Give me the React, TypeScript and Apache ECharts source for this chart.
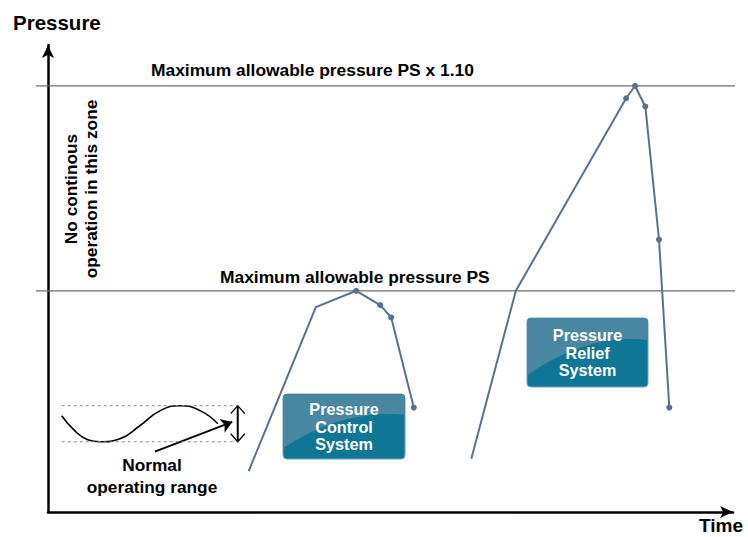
import React, { useEffect, useRef } from "react";
import * as echarts from "echarts";

// ---- data (time in % of axis length, pressure in % of PS) ----
const timeRange = [0, 100];
const pressureRange = [89.2, 112];
const refLevels = [100, 110];
const refLabels = ["Maximum allowable pressure PS", "Maximum allowable pressure PS x 1.10"];

const controlTime = [29.3, 39.1, 45.0, 48.5, 50.1, 53.4];
const controlPressure = [91.2, 99.2, 100.0, 99.3, 98.7, 94.3];
const controlMarked = [false, false, true, true, true, true];

const reliefTime = [61.8, 68.3, 84.4, 85.7, 87.2, 89.2, 90.7];
const reliefPressure = [91.8, 100.0, 109.4, 110.0, 109.0, 102.5, 94.3];
const reliefMarked = [false, false, true, true, true, true, true];

const normalTime = [2.0, 3.9, 5.8, 7.6, 10.5, 13.4, 16.4, 19.3, 22.2, 24.8];
const normalPressure = [93.9, 93.17, 92.73, 92.63, 92.78, 93.41, 94.15, 94.39, 94.15, 93.51];

const rangeTime = [2.0, 27.7];
const rangeBounds = [92.63, 94.39];

const pointerFrom = [15.6, 92.15];
const pointerTo = [26.9, 93.6];

const boxLabels = ["Pressure\nControl\nSystem", "Pressure\nRelief\nSystem"];
const zoneLabel = "No continous\noperation in this zone";
const rangeLabel = "Normal\noperating range";
const axisNames = ["Time", "Pressure"];

const FONT = "'Liberation Sans', Arial, Helvetica, sans-serif";
const LINE = "#587190";

function glossPath(w: number, h: number, r: number) {
  return `M0,${r} Q0,0 ${r},0 L${w - r},0 Q${w},0 ${w},${r} L${w},${0.32 * h} Q${0.5 * w},${0.22 * h} 0,${0.83 * h} Z`;
}

export default function App() {
  const ref = useRef<HTMLDivElement>(null);
  useEffect(() => {
    const chart = echarts.init(ref.current!, null, { renderer: "svg" });
    const mk = (ts: number[], ps: number[], marked?: boolean[]) =>
      ts.map((t, i) => ({
        value: [t, ps[i]],
        symbol: marked && marked[i] ? "circle" : "none",
      }));
    chart.setOption({
      animation: false,
      grid: { left: 48, right: 15, top: 45, bottom: 25 },
      xAxis: {
        type: "value",
        min: timeRange[0],
        max: timeRange[1],
        axisLine: {
          onZero: false,
          symbol: ["none", "arrow"],
          symbolSize: [9, 13],
          lineStyle: { color: "#000", width: 2.5 },
        },
        axisTick: { show: false },
        axisLabel: { show: false },
        splitLine: { show: false },
      },
      yAxis: {
        type: "value",
        min: pressureRange[0],
        max: pressureRange[1],
        axisLine: {
          show: true,
          onZero: false,
          symbol: ["none", "arrow"],
          symbolSize: [9, 13],
          lineStyle: { color: "#000", width: 2.5 },
        },
        axisTick: { show: false },
        axisLabel: { show: false },
        splitLine: { show: false },
      },
      series: [
        {
          type: "line",
          data: mk(controlTime, controlPressure, controlMarked),
          symbolSize: 6,
          lineStyle: { color: LINE, width: 2 },
          itemStyle: { color: LINE },
        },
        {
          type: "line",
          data: mk(reliefTime, reliefPressure, reliefMarked),
          symbolSize: 6,
          lineStyle: { color: LINE, width: 2 },
          itemStyle: { color: LINE },
        },
        {
          type: "line",
          data: normalTime.map((t, i) => [t, normalPressure[i]]),
          smooth: 0.5,
          showSymbol: false,
          lineStyle: { color: "#000", width: 1.6 },
        },
        ...rangeBounds.map((b) => ({
          type: "line",
          data: rangeTime.map((t) => [t, b]),
          showSymbol: false,
          lineStyle: { color: "#8a8a8a", width: 1, type: [3, 3] },
        })),
        {
          type: "lines",
          coordinateSystem: "cartesian2d",
          symbol: ["none", "arrow"],
          symbolSize: 11,
          lineStyle: { color: "#000", width: 2, opacity: 1 },
          data: [{ coords: [pointerFrom, pointerTo] }],
        },
      ],
    });

    const px = (t: number, p: number) =>
      chart.convertToPixel({ gridIndex: 0 }, [t, p]) as number[];

    const graphics: any[] = [];
    // reference lines
    refLevels.forEach((lv, i) => {
      const y = px(0, lv)[1];
      graphics.push({
        type: "line",
        shape: { x1: 36, y1: y, x2: 735, y2: y },
        style: { stroke: "#6e6e6e", lineWidth: 1.2 },
        z: 1,
      });
      graphics.push({
        type: "text",
        x: i === 0 ? 220 : 151,
        y: y - (i === 0 ? 14 : 16),
        style: {
          text: refLabels[i],
          fontSize: 17.4,
          fontWeight: "bold",
          fontFamily: FONT,
          fill: "#000",
          align: "left",
          verticalAlign: "middle",
        },
      });
    });
    // double arrow for normal range
    const top = px(rangeTime[1], rangeBounds[1]);
    const bot = px(rangeTime[1], rangeBounds[0]);
    graphics.push({
      type: "line",
      shape: { x1: top[0], y1: top[1], x2: bot[0], y2: bot[1] },
      style: { stroke: "#000", lineWidth: 2 },
    });
    graphics.push({
      type: "polyline",
      shape: { points: [[top[0] - 7, top[1] + 8], [top[0], top[1]], [top[0] + 7, top[1] + 8]] },
      style: { stroke: "#000", lineWidth: 1.3, fill: "none" },
    });
    graphics.push({
      type: "polyline",
      shape: { points: [[bot[0] - 7, bot[1] - 8], [bot[0], bot[1]], [bot[0] + 7, bot[1] - 8]] },
      style: { stroke: "#000", lineWidth: 1.3, fill: "none" },
    });
    // boxes
    const boxes = [
      { x: 283, y: 394, w: 122, h: 65 },
      { x: 527, y: 318, w: 121, h: 69 },
    ];
    boxes.forEach((b, i) => {
      const name = "gloss" + i;
      echarts.graphic.registerShape(name, echarts.graphic.extendPath(glossPath(b.w, b.h, 4), {}));
      graphics.push({
        type: "rect",
        shape: { x: b.x, y: b.y, width: b.w, height: b.h, r: 4 },
        style: { fill: "#0f7696", stroke: "#6ea3b8", lineWidth: 1 },
      });
      graphics.push({
        type: name,
        x: b.x,
        y: b.y,
        style: { fill: "#4886a2" },
      });
      graphics.push({
        type: "text",
        x: b.x + b.w / 2,
        y: b.y + b.h / 2,
        style: {
          text: boxLabels[i],
          fontSize: 16.2,
          fontWeight: "bold",
          fontFamily: FONT,
          fill: "#fff",
          align: "center",
          verticalAlign: "middle",
          lineHeight: 17.5,
        },
      });
    });
    // other labels
    graphics.push({
      type: "text",
      x: 81,
      y: 189,
      rotation: Math.PI / 2,
      style: {
        text: zoneLabel,
        fontSize: 17.3,
        fontWeight: "bold",
        fontFamily: FONT,
        fill: "#000",
        align: "center",
        verticalAlign: "middle",
        lineHeight: 20,
      },
    });
    graphics.push({
      type: "text",
      x: 152,
      y: 476,
      style: {
        text: rangeLabel,
        fontSize: 17.3,
        fontWeight: "bold",
        fontFamily: FONT,
        fill: "#000",
        align: "center",
        verticalAlign: "middle",
        lineHeight: 22,
      },
    });
    graphics.push({
      type: "text",
      x: 13,
      y: 22,
      style: {
        text: axisNames[1],
        fontSize: 20.5,
        fontWeight: "bold",
        fontFamily: FONT,
        fill: "#000",
        align: "left",
        verticalAlign: "middle",
      },
    });
    graphics.push({
      type: "text",
      x: 699,
      y: 525,
      style: {
        text: axisNames[0],
        fontSize: 19,
        fontWeight: "bold",
        fontFamily: FONT,
        fill: "#000",
        align: "left",
        verticalAlign: "middle",
      },
    });
    chart.setOption({ graphic: graphics });
    return () => chart.dispose();
  }, []);
  return (
    <div
      ref={ref}
      style={{ position: "fixed", left: 0, top: 0, width: 748, height: 537, background: "#fff" }}
    />
  );
}
